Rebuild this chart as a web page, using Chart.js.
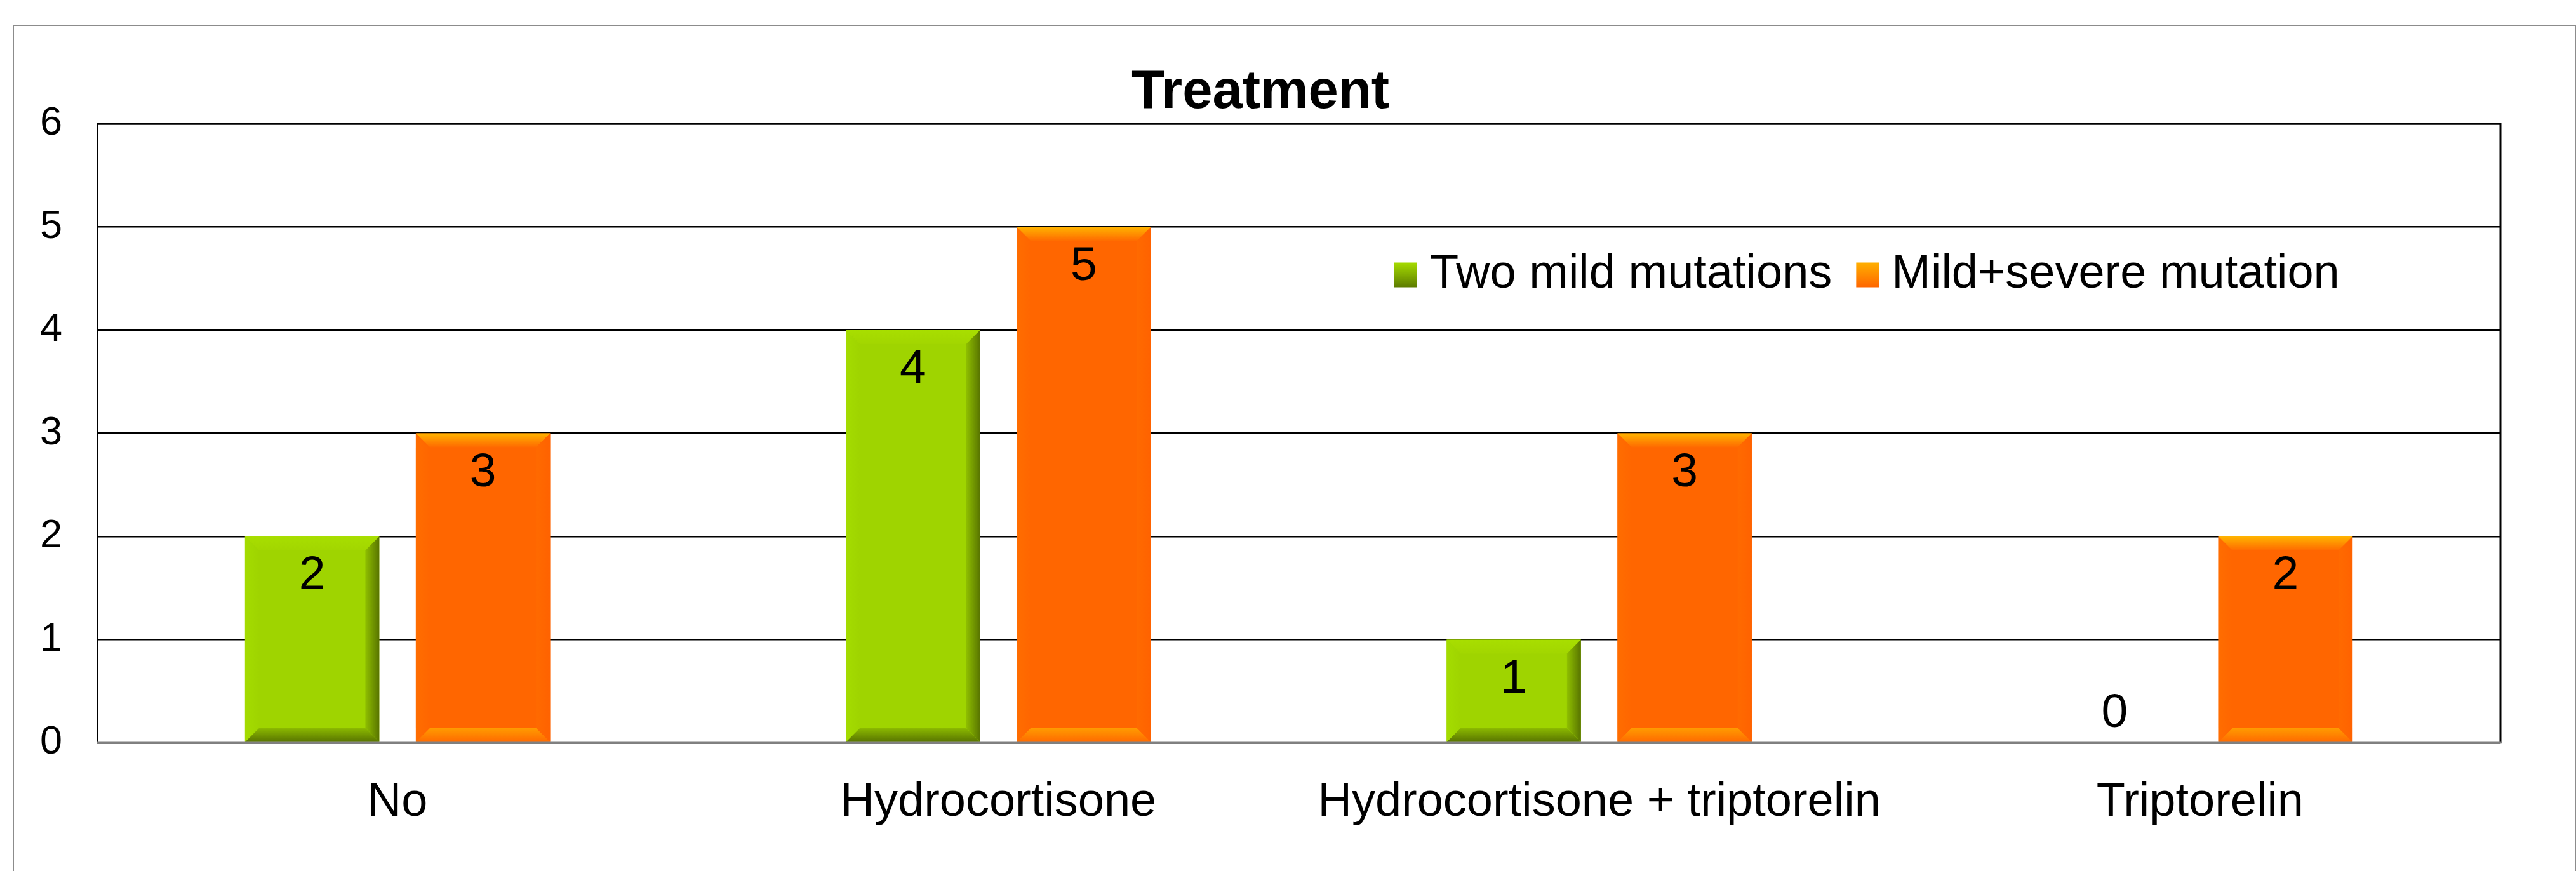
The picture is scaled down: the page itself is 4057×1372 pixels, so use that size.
<!DOCTYPE html>
<html><head><meta charset="utf-8">
<script src="https://cdn.jsdelivr.net/npm/chart.js@4.4.1/dist/chart.umd.min.js"></script>
<style>
html,body{margin:0;padding:0;background:#fff;width:4057px;height:1372px;overflow:hidden}
#frame{position:absolute;left:20px;top:39px;width:4037px;height:2000px;box-sizing:border-box;border:2px solid #8c8c8c}
#wrap{position:absolute;left:0;top:0;width:3970px;height:1372px}
</style></head><body>
<div id="frame"></div>
<div id="wrap"><canvas id="c"></canvas></div>
<script>
// ---- data ----
const categories = ["No", "Hydrocortisone", "Hydrocortisone + triptorelin", "Triptorelin"];
const seriesNames = ["Two mild mutations", "Mild+severe mutation"];
const twoMild = [2, 4, 1, 0];
const mildSevere = [3, 5, 3, 2];
const yTicks = [0, 1, 2, 3, 4, 5, 6];
const chartTitle = "Treatment";

// ---- styles ----
const FONT = "'Liberation Sans', Arial, Helvetica, sans-serif";
const styles = [
  { main: '#9fd400', top: ['#a8de00', '#a2d600'], bottom: ['#8cba00', '#587400'], left: ['#a4dc00', '#9fd400'], right: ['#8fbf00', '#587400'], legend: ['#a6dc00', '#5d7c00'] },
  { main: '#ff6600', top: ['#ffb400', '#ff6a00'], bottom: ['#ff9c00', '#ff6a00'], left: ['#ff6d00', '#ff6600'], right: ['#ff6a00', '#ff6200'], legend: ['#ffb000', '#ff6600'] }
];
const LAY = { bevel: 22, labelSize: 75, insideBase: 83, zeroBase: 25,
  legend: { x: 2196, yc: 433, bw: 36, bh: 39, gap: 20, itemGap: 38, size: 74 } };

Chart.defaults.font.family = FONT;
Chart.defaults.color = '#000';

function grad(ctx, x0, y0, x1, y1, c) {
  const g = ctx.createLinearGradient(x0, y0, x1, y1);
  g.addColorStop(0, c[0]); g.addColorStop(1, c[1]);
  return g;
}
function poly(ctx, pts, fill) {
  ctx.beginPath(); ctx.moveTo(pts[0][0], pts[0][1]);
  for (let i = 1; i < pts.length; i++) ctx.lineTo(pts[i][0], pts[i][1]);
  ctx.closePath(); ctx.fillStyle = fill; ctx.fill();
}

const bevelPlugin = {
  id: 'bevel',
  afterDatasetsDraw(chart) {
    const ctx = chart.ctx;
    chart.data.datasets.forEach((ds, di) => {
      const st = styles[di];
      chart.getDatasetMeta(di).data.forEach(bar => {
        const { x, y, base, width } = bar.getProps(['x', 'y', 'base', 'width'], true);
        const l = x - width / 2, r = x + width / 2, t = Math.min(y, base), b = Math.max(y, base);
        const h = b - t; if (h < 1) return;
        const bv = Math.min(LAY.bevel, h / 2, width / 2);
        ctx.save();
        poly(ctx, [[l, t], [r, t], [r - bv, t + bv], [l + bv, t + bv]], grad(ctx, 0, t, 0, t + bv, st.top));
        poly(ctx, [[l, b], [r, b], [r - bv, b - bv], [l + bv, b - bv]], grad(ctx, 0, b - bv, 0, b, st.bottom));
        poly(ctx, [[l, t], [l + bv, t + bv], [l + bv, b - bv], [l, b]], grad(ctx, l, 0, l + bv, 0, st.left));
        poly(ctx, [[r, t], [r - bv, t + bv], [r - bv, b - bv], [r, b]], grad(ctx, r - bv, 0, r, 0, st.right));
        ctx.restore();
      });
    });
    // plot frame: top/right black, bottom grey
    const a = chart.chartArea;
    ctx.save();
    ctx.lineWidth = 3; ctx.strokeStyle = '#000';
    ctx.beginPath(); ctx.moveTo(a.left, a.top); ctx.lineTo(a.right, a.top); ctx.lineTo(a.right, a.bottom); ctx.stroke();
    ctx.strokeStyle = '#808080';
    ctx.beginPath(); ctx.moveTo(a.left, a.bottom); ctx.lineTo(a.right + 1.5, a.bottom); ctx.stroke();
    ctx.restore();
    // data labels
    ctx.save();
    ctx.font = LAY.labelSize + 'px ' + FONT;
    ctx.fillStyle = '#000'; ctx.textAlign = 'center'; ctx.textBaseline = 'alphabetic';
    chart.data.datasets.forEach((ds, di) => {
      chart.getDatasetMeta(di).data.forEach((bar, i) => {
        const v = ds.data[i];
        const { x, y } = bar.getProps(['x', 'y'], true);
        const yy = v > 0 ? y + LAY.insideBase : y - LAY.zeroBase;
        ctx.fillText(String(v), x, yy);
      });
    });
    ctx.restore();
    // legend
    const L = LAY.legend;
    ctx.save();
    ctx.font = L.size + 'px ' + FONT;
    ctx.textBaseline = 'middle'; ctx.textAlign = 'left'; ctx.fillStyle = '#000';
    let lx = L.x;
    chart.data.datasets.forEach((ds, di) => {
      const by = L.yc - L.bh / 2;
      ctx.fillStyle = grad(ctx, 0, by, 0, by + L.bh, styles[di].legend);
      ctx.fillRect(lx, by, L.bw, L.bh);
      ctx.fillStyle = '#000';
      ctx.fillText(ds.label, lx + L.bw + L.gap, L.yc);
      lx += L.bw + L.gap + ctx.measureText(ds.label).width + L.itemGap;
    });
    ctx.restore();
  }
};

new Chart(document.getElementById('c'), {
  type: 'bar',
  data: {
    labels: categories,
    datasets: [
      { label: seriesNames[0], data: twoMild, backgroundColor: styles[0].main, borderWidth: 0, categoryPercentage: 0.5686, barPercentage: 0.786 },
      { label: seriesNames[1], data: mildSevere, backgroundColor: styles[1].main, borderWidth: 0, categoryPercentage: 0.5686, barPercentage: 0.786 }
    ]
  },
  options: {
    responsive: true, maintainAspectRatio: false, animation: false,
    layout: { padding: { left: 32, right: 32, top: 0, bottom: 52 } },
    plugins: {
      legend: { display: false },
      tooltip: { enabled: false },
      title: { display: true, text: chartTitle, color: '#000', font: { size: 85, weight: 'bold', lineHeight: 1 }, padding: { top: 104, bottom: 6 } }
    },
    scales: {
      x: {
        grid: { display: false },
        border: { display: false },
        ticks: { font: { size: 74 }, color: '#000', padding: 42, maxRotation: 0, autoSkip: false },
        afterFit(s) { s.height = 150; }
      },
      y: {
        min: 0, max: 6,
        grid: { color: '#000', lineWidth: 2.6, drawTicks: false },
        border: { display: true, color: '#000', width: 3 },
        ticks: { font: { size: 63 }, color: '#000', padding: 55, stepSize: 1 },
        afterBuildTicks(s) { s.ticks = yTicks.map(v => ({ value: v })); },
        afterFit(s) { s.width = 121; }
      }
    }
  },
  plugins: [bevelPlugin]
});
</script>
</body></html>
